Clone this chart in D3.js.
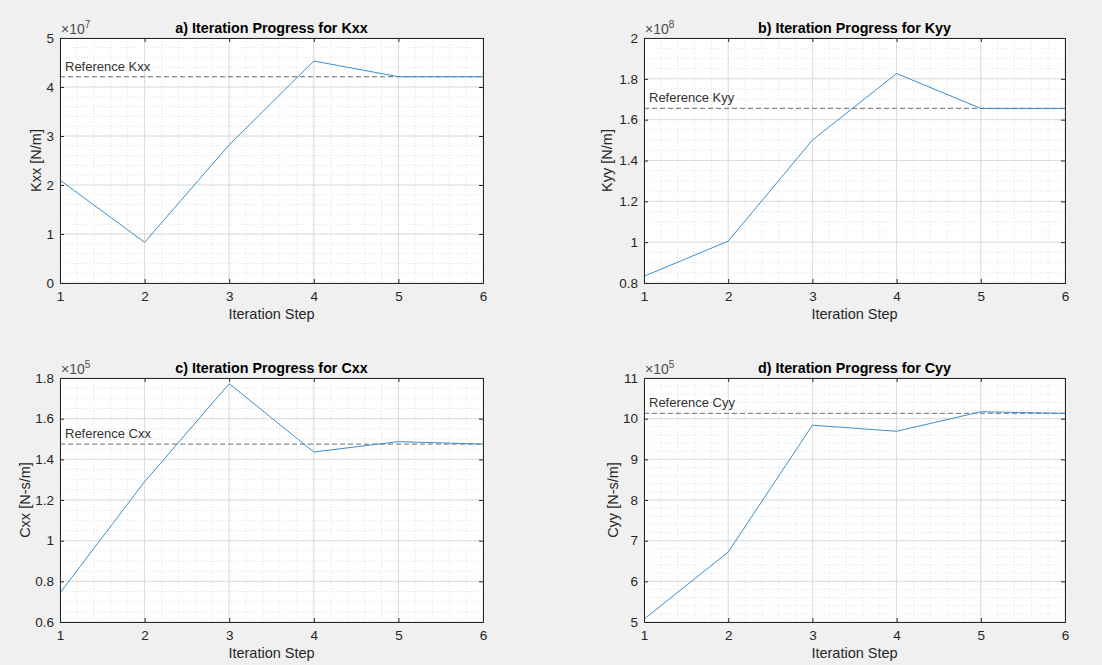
<!DOCTYPE html>
<html>
<head>
<meta charset="utf-8">
<script src="https://cdn.jsdelivr.net/npm/d3@7"></script>
<style>
	body { margin: 0; background: #f0f0f0; }
	svg { display: block; font-family: "Liberation Sans", Arial, Helvetica, sans-serif; }
</style>
</head>
<body>
<script>
// iteration data
var steps = [1, 2, 3, 4, 5, 6];
var kxx = [2.10e7, 0.83e7, 2.82e7, 4.53e7, 4.21e7, 4.21e7];
var kyy = [0.833e8, 1.005e8, 1.50e8, 1.826e8, 1.655e8, 1.655e8];
var cxx = [0.743e5, 1.29e5, 1.772e5, 1.436e5, 1.487e5, 1.475e5];
var cyy = [5.07e5, 6.72e5, 9.84e5, 9.69e5, 10.17e5, 10.13e5];
var refValues = [4.21e7, 1.655e8, 1.475e5, 10.13e5];
var names = ["Kxx", "Kyy", "Cxx", "Cyy"];
var titles = ["a) Iteration Progress for Kxx", "b) Iteration Progress for Kyy",
			  "c) Iteration Progress for Cxx", "d) Iteration Progress for Cyy"];
var yLabels = ["Kxx [N/m]", "Kyy [N/m]", "Cxx [N-s/m]", "Cyy [N-s/m]"];
var exponents = [7, 8, 5, 5];
var yDomains = [[0, 5], [0.8, 2], [0.6, 1.8], [5, 11]];
var yMajor = [1, 0.2, 0.2, 1];
var yMinor = [0.2, 0.05, 0.05, 0.2];
var series = [kxx, kyy, cxx, cyy];

var width = 1102,
	height = 665;

var svg = d3.select("body").append("svg")
	.attr("width", width)
	.attr("height", height);

// plot box for each panel
var boxes = [
	{ x0: 60, x1: 483, y0: 38, y1: 283, labelX: 36 },
	{ x0: 644, x1: 1065, y0: 38, y1: 283, labelX: 607 },
	{ x0: 60, x1: 483, y0: 378, y1: 622, labelX: 25 },
	{ x0: 644, x1: 1065, y0: 378, y1: 622, labelX: 613 }
];

function range(a, b, s) {
	var out = [];
	var n = Math.round((b - a) / s);
	for (var i = 0; i <= n; i++) out.push(+(a + i * s).toFixed(4));
	return out;
}

for (var p = 0; p < 4; p++) {
	var b = boxes[p];
	var scale = Math.pow(10, exponents[p]);
	var w = b.x1 - b.x0, h = b.y1 - b.y0;

	var x = d3.scaleLinear().domain([1, 6]).range([b.x0, b.x1]);
	var y = d3.scaleLinear().domain([yDomains[p][0] * scale, yDomains[p][1] * scale]).range([b.y1, b.y0]);

	var g = svg.append("g");

	g.append("rect")
		.attr("x", b.x0).attr("y", b.y0)
		.attr("width", w).attr("height", h)
		.attr("fill", "#ffffff");

	// minor grid
	var xMinor = range(1, 6, 0.2);
	var yMin = range(yDomains[p][0], yDomains[p][1], yMinor[p]);
	g.append("g").selectAll("line")
		.data(xMinor)
		.enter().append("line")
		.attr("x1", function(d) { return x(d); })
		.attr("x2", function(d) { return x(d); })
		.attr("y1", b.y0).attr("y2", b.y1)
		.attr("stroke", "#e2e2e2")
		.attr("stroke-dasharray", "1,2");
	g.append("g").selectAll("line")
		.data(yMin)
		.enter().append("line")
		.attr("y1", function(d) { return y(d * scale); })
		.attr("y2", function(d) { return y(d * scale); })
		.attr("x1", b.x0).attr("x2", b.x1)
		.attr("stroke", "#e2e2e2")
		.attr("stroke-dasharray", "1,2");

	// major grid
	var yTicks = range(yDomains[p][0], yDomains[p][1], yMajor[p]);
	g.append("g").selectAll("line")
		.data(steps)
		.enter().append("line")
		.attr("x1", function(d) { return x(d); })
		.attr("x2", function(d) { return x(d); })
		.attr("y1", b.y0).attr("y2", b.y1)
		.attr("stroke", "#dcdcdc");
	g.append("g").selectAll("line")
		.data(yTicks)
		.enter().append("line")
		.attr("y1", function(d) { return y(d * scale); })
		.attr("y2", function(d) { return y(d * scale); })
		.attr("x1", b.x0).attr("x2", b.x1)
		.attr("stroke", "#dcdcdc");

	// reference line + label
	g.append("line")
		.attr("x1", b.x0).attr("x2", b.x1)
		.attr("y1", y(refValues[p])).attr("y2", y(refValues[p]))
		.attr("stroke", "#8a8a8a")
		.attr("stroke-width", 1.2)
		.attr("stroke-dasharray", "5,3");
	g.append("text")
		.attr("x", b.x0 + 5)
		.attr("y", y(refValues[p]) - 6)
		.attr("font-size", 13)
		.attr("fill", "#333333")
		.text("Reference " + names[p]);

	// iteration line
	var line = d3.line()
		.x(function(d, i) { return x(steps[i]); })
		.y(function(d) { return y(d); });
	g.append("path")
		.datum(series[p])
		.attr("d", line)
		.attr("fill", "none")
		.attr("stroke", "#3b8fcc")
		.attr("stroke-width", 1);

	// axes, ticks inside on all four sides
	var fmt = function(d) { return String(+(d / scale).toFixed(2)); };
	var yAxisL = d3.axisLeft(y).tickValues(yTicks.map(function(d) { return d * scale; }))
		.tickSize(-4).tickPadding(6).tickFormat(fmt);
	var yAxisR = d3.axisRight(y).tickValues(yTicks.map(function(d) { return d * scale; }))
		.tickSize(-4).tickFormat("");
	var xAxisB = d3.axisBottom(x).tickValues(steps).tickSize(-4).tickPadding(8).tickFormat(d3.format("d"));
	var xAxisT = d3.axisTop(x).tickValues(steps).tickSize(-4).tickFormat("");

	var axes = [
		g.append("g").attr("transform", "translate(" + b.x0 + ",0)").call(yAxisL),
		g.append("g").attr("transform", "translate(" + b.x1 + ",0)").call(yAxisR),
		g.append("g").attr("transform", "translate(0," + b.y1 + ")").call(xAxisB),
		g.append("g").attr("transform", "translate(0," + b.y0 + ")").call(xAxisT)
	];
	axes.forEach(function(a) {
		a.select(".domain").attr("stroke", "#262626").attr("stroke-width", 1);
		a.selectAll(".tick line").attr("stroke", "#262626");
		a.selectAll(".tick text")
			.attr("fill", "#262626")
			.attr("font-size", 13.5)
			.attr("font-family", "Liberation Sans, Arial, sans-serif");
	});

	// exponent label
	var ex = g.append("text")
		.attr("x", b.x0 + 1)
		.attr("y", b.y0 - 4)
		.attr("font-size", 14)
		.attr("fill", "#4d4d4d");
	ex.append("tspan").text("\u00d710");
	ex.append("tspan").attr("dy", -6).attr("font-size", 10).text(exponents[p]);

	// title
	g.append("text")
		.attr("x", (b.x0 + b.x1) / 2)
		.attr("y", b.y0 - 5)
		.attr("text-anchor", "middle")
		.attr("font-size", 14.3)
		.attr("font-weight", "bold")
		.attr("fill", "#000000")
		.text(titles[p]);

	// axis labels
	g.append("text")
		.attr("x", (b.x0 + b.x1) / 2)
		.attr("y", b.y1 + 36)
		.attr("text-anchor", "middle")
		.attr("font-size", 14.5)
		.attr("fill", "#262626")
		.text("Iteration Step");
	g.append("text")
		.attr("transform", "translate(" + (b.labelX + 5) + "," + ((b.y0 + b.y1) / 2) + ") rotate(-90)")
		.attr("text-anchor", "middle")
		.attr("font-size", 14.5)
		.attr("fill", "#262626")
		.text(yLabels[p]);
}
</script>
</body>
</html>
